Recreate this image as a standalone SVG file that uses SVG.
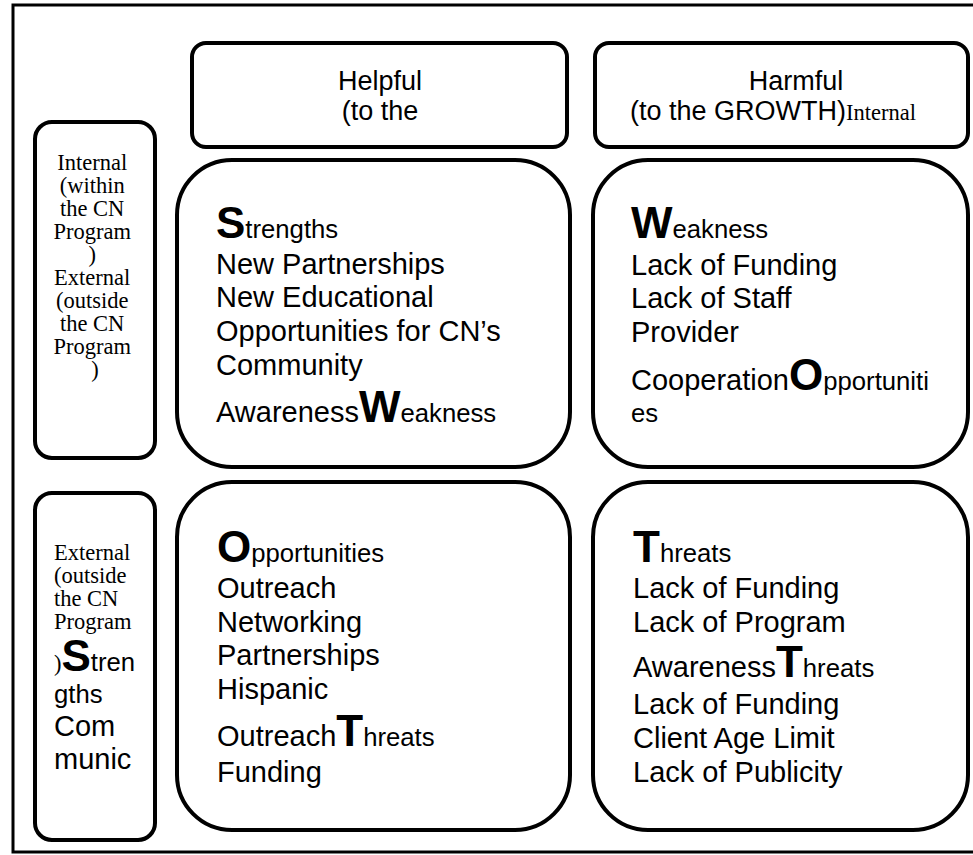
<svg xmlns="http://www.w3.org/2000/svg" width="973" height="855" viewBox="0 0 973 855">
<style>
.frame{fill:none;stroke:#000;stroke-width:3}
.box{fill:#fff;stroke:#000;stroke-width:4}
.a{font-family:"Liberation Sans",Arial,sans-serif;fill:#000}
.t{font-family:"Liberation Serif","Times New Roman",serif;fill:#000;font-size:22.5px}
.b{font-size:29px}
.s{font-size:25.7px}
.h{font-size:27px}
.B{font-size:44px;font-weight:bold}
</style>
<rect width="973" height="855" fill="#fff"/>
<rect class="frame" x="13" y="5" width="975" height="847"/>
<g id="helpful">
<rect class="box" x="192" y="43" width="375" height="104" rx="14"/>
<text class="a h" x="380" y="90" text-anchor="middle">Helpful</text>
<text class="a h" x="380" y="120" text-anchor="middle">(to the</text>
</g>
<g id="harmful">
<rect class="box" x="595" y="43" width="373" height="104" rx="14"/>
<text class="a h" x="796" y="90" text-anchor="middle">Harmful</text>
<text x="630" y="120"><tspan class="a h">(to the GROWTH)</tspan><tspan class="t">Internal</tspan></text>
</g>
<g id="internal-label">
<rect class="box" x="35" y="122" width="120" height="336" rx="17"/>
<text class="t" text-anchor="middle">
<tspan x="95" y="170">Internal</tspan>
<tspan x="95" y="193">(within</tspan>
<tspan x="95" y="216">the CN</tspan>
<tspan x="95" y="239">Program</tspan>
<tspan x="95" y="262">)</tspan>
<tspan x="95" y="285">External</tspan>
<tspan x="95" y="308">(outside</tspan>
<tspan x="95" y="331">the CN</tspan>
<tspan x="95" y="354">Program</tspan>
<tspan x="95" y="377">)</tspan>
</text>
</g>
<g id="external-label">
<rect class="box" x="35" y="493" width="120" height="347" rx="17"/>
<text class="t">
<tspan x="54" y="560">External</tspan>
<tspan x="54" y="583">(outside</tspan>
<tspan x="54" y="606">the CN</tspan>
<tspan x="54" y="629">Program</tspan>
</text>
<text x="54" y="671"><tspan class="t">)</tspan><tspan class="a B">S</tspan><tspan class="a s">tren</tspan></text>
<text class="a s" x="54" y="703">gths</text>
<text class="a b" x="54" y="736">Com</text>
<text class="a b" x="54" y="769">munic</text>
</g>
<g id="strengths">
<rect class="box" x="177" y="160" width="393" height="307" rx="55"/>
<text x="216" y="238"><tspan class="a B">S</tspan><tspan class="a s">trengths</tspan></text>
<text class="a b" x="216" y="274">New Partnerships</text>
<text class="a b" x="216" y="307">New Educational</text>
<text class="a b" x="216" y="341">Opportunities for CN’s</text>
<text class="a b" x="216" y="375">Community</text>
<text x="216" y="422"><tspan class="a b">Awareness</tspan><tspan class="a B">W</tspan><tspan class="a s">eakness</tspan></text>
</g>
<g id="weakness">
<rect class="box" x="593" y="160" width="375" height="307" rx="55"/>
<text x="631" y="238"><tspan class="a B">W</tspan><tspan class="a s">eakness</tspan></text>
<text class="a b" x="631" y="275">Lack of Funding</text>
<text class="a b" x="631" y="308">Lack of Staff</text>
<text class="a b" x="631" y="342">Provider</text>
<text x="631" y="390"><tspan class="a b">Cooperation</tspan><tspan class="a B">O</tspan><tspan class="a s">pportuniti</tspan></text>
<text class="a s" x="631" y="422">es</text>
</g>
<g id="opportunities">
<rect class="box" x="177" y="482" width="393" height="348" rx="55"/>
<text x="217" y="562"><tspan class="a B">O</tspan><tspan class="a s">pportunities</tspan></text>
<text class="a b" x="217" y="598">Outreach</text>
<text class="a b" x="217" y="632">Networking</text>
<text class="a b" x="217" y="665">Partnerships</text>
<text class="a b" x="217" y="699">Hispanic</text>
<text x="217" y="746"><tspan class="a b">Outreach</tspan><tspan class="a B">T</tspan><tspan class="a s">hreats</tspan></text>
<text class="a b" x="217" y="782">Funding</text>
</g>
<g id="threats">
<rect class="box" x="593" y="482" width="375" height="348" rx="55"/>
<text x="633" y="562"><tspan class="a B">T</tspan><tspan class="a s">hreats</tspan></text>
<text class="a b" x="633" y="598">Lack of Funding</text>
<text class="a b" x="633" y="632">Lack of Program</text>
<text x="633" y="677"><tspan class="a b">Awareness</tspan><tspan class="a B">T</tspan><tspan class="a s">hreats</tspan></text>
<text class="a b" x="633" y="714">Lack of Funding</text>
<text class="a b" x="633" y="748">Client Age Limit</text>
<text class="a b" x="633" y="782">Lack of Publicity</text>
</g>
<g id="connectors"></g>
</svg>
